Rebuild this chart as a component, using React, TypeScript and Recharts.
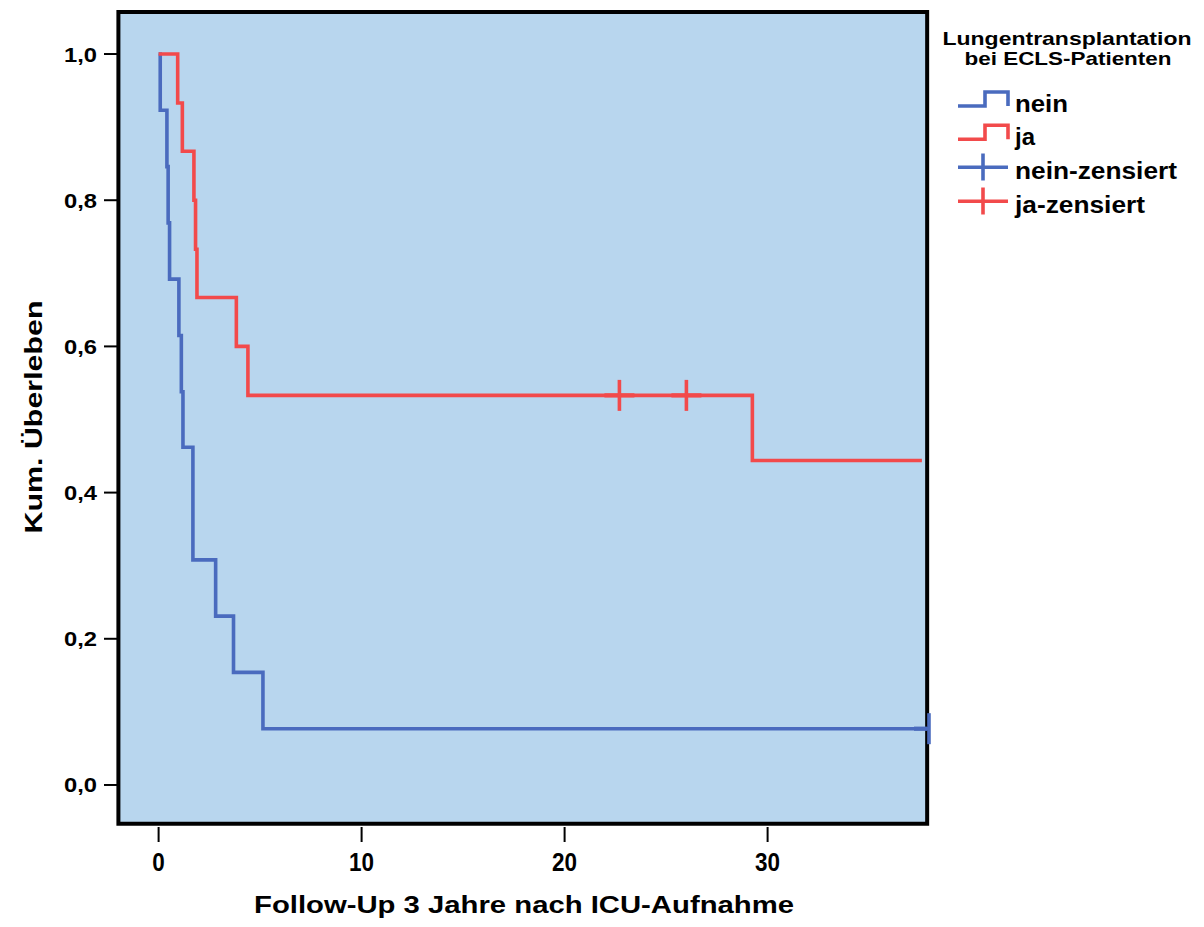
import React from 'react';
import {
  ComposedChart,
  Line,
  Scatter,
  XAxis,
  YAxis,
  ReferenceArea,
  Legend,
} from 'recharts';

// ---- data ----
const NEIN_T = [0, 0.08, 0.41, 0.47, 0.54, 1.0, 1.12, 1.2, 1.69, 2.81, 3.69, 5.14, 38];
const NEIN_S = [1, 0.923, 0.846, 0.769, 0.692, 0.615, 0.538, 0.462, 0.308, 0.231, 0.154, 0.077, 0.077];
const JA_T = [0, 0.94, 1.17, 1.74, 1.82, 1.89, 3.83, 4.4, 29.25, 37.6];
const JA_S = [1, 0.933, 0.867, 0.8, 0.733, 0.667, 0.6, 0.533, 0.444, 0.444];
const NEIN_CENS_T = [37.95];
const NEIN_CENS_S = [0.077];
const JA_CENS_T = [22.7, 26.0];
const JA_CENS_S = [0.533, 0.533];

const X_TICKS = [0, 10, 20, 30];
const Y_TICKS = [0, 0.2, 0.4, 0.6, 0.8, 1.0];
const X_TITLE = 'Follow-Up 3 Jahre nach ICU-Aufnahme';
const Y_TITLE = 'Kum. Überleben';
const LEGEND_TITLE = ['Lungentransplantation', 'bei ECLS-Patienten'];
const LEGEND_LABELS = ['nein', 'ja', 'nein-zensiert', 'ja-zensiert'];

// ---- styles ----
const BLUE = '#4A6BBE';
const RED = '#F24A4B';
const BG = '#B8D6EE';
const FONT = "'Liberation Sans', Arial, sans-serif";
const PLOT_RIGHT = 927;
const LW = 3.6;

const zip = (ts: number[], ss: number[]) => ts.map((t, i) => ({ t, s: ss[i] }));
const neinData = zip(NEIN_T, NEIN_S);
const jaData = zip(JA_T, JA_S);
const neinCens = zip(NEIN_CENS_T, NEIN_CENS_S);
const jaCens = zip(JA_CENS_T, JA_CENS_S);

const makePlus = (color: string) => (props: any) => {
  const { cx, cy } = props;
  if (cx == null || cy == null) return <g />;
  return (
    <g>
      <line x1={cx - 15} x2={Math.min(cx + 15, PLOT_RIGHT)} y1={cy} y2={cy} stroke={color} strokeWidth={LW + 0.6} />
      <line x1={cx} x2={cx} y1={cy - 15.5} y2={cy + 15.5} stroke={color} strokeWidth={LW} />
    </g>
  );
};

const YTick = (props: any) => {
  const { x, y, payload } = props;
  const label = Number(payload.value).toFixed(1).replace('.', ',');
  return (
    <text
      x={x}
      y={y}
      dy={7.5}
      textAnchor="end"
      fontFamily={FONT}
      fontWeight="bold"
      fontSize={20.5}
      fill="#000"
      textLength={33}
      lengthAdjust="spacingAndGlyphs"
    >
      {label}
    </text>
  );
};

const XTick = (props: any) => {
  const { x, y, payload } = props;
  const label = String(payload.value);
  return (
    <text
      x={x}
      y={y}
      dy={27}
      textAnchor="middle"
      fontFamily={FONT}
      fontWeight="bold"
      fontSize={25}
      fill="#000"
      textLength={12.5 * label.length}
      lengthAdjust="spacingAndGlyphs"
    >
      {label}
    </text>
  );
};

const LegendContent = () => {
  const rowBase = [111.7, 145, 178.5, 212.5];
  const widths = [53, 20, 162, 130];
  const colors = [BLUE, RED, BLUE, RED];
  return (
    <svg width={1204} height={240} style={{ position: 'absolute', left: 0, top: 0, overflow: 'visible' }}>
      <text x={1067} y={45} textAnchor="middle" fontFamily={FONT} fontWeight="bold" fontSize={18.5}
        textLength={249} lengthAdjust="spacingAndGlyphs">{LEGEND_TITLE[0]}</text>
      <text x={1068} y={65} textAnchor="middle" fontFamily={FONT} fontWeight="bold" fontSize={18.5}
        textLength={207} lengthAdjust="spacingAndGlyphs">{LEGEND_TITLE[1]}</text>
      {LEGEND_LABELS.map((lab, i) => {
        const b = rowBase[i];
        const c = colors[i];
        const sym = i < 2 ? (
          <polyline
            points={`958,${b - 5.7} 985,${b - 5.7} 985,${b - 19.7} 1008,${b - 19.7} 1008,${b - 5.7}`}
            fill="none" stroke={c} strokeWidth={LW}
          />
        ) : (
          <g>
            <line x1={958} x2={1008} y1={b - 11.3} y2={b - 11.3} stroke={c} strokeWidth={LW} />
            <line x1={983} x2={983} y1={b - 25} y2={b + 2} stroke={c} strokeWidth={LW} />
          </g>
        );
        return (
          <g key={lab}>
            {sym}
            <text x={1015} y={b} fontFamily={FONT} fontWeight="bold" fontSize={23} fill="#000"
              textLength={widths[i]} lengthAdjust="spacingAndGlyphs">{lab}</text>
          </g>
        );
      })}
    </svg>
  );
};

export default function App() {
  return (
    <div style={{ position: 'absolute', left: 0, top: 0, width: 1204, height: 927, background: '#fff' }}>
      <ComposedChart
        width={1204}
        height={927}
        margin={{ top: 12, right: 274, bottom: 0, left: 0 }}
      >
        <XAxis
          type="number"
          dataKey="t"
          domain={[-2, 38]}
          ticks={X_TICKS}
          height={100}
          axisLine={false}
          tickSize={15}
          tickMargin={2}
          tickLine={{ stroke: '#000', strokeWidth: 2 }}
          tick={<XTick />}
          interval={0}
          label={(p: any) => (
            <text x={524} y={913} textAnchor="middle" fontFamily={FONT} fontWeight="bold" fontSize={24}
              fill="#000" textLength={540} lengthAdjust="spacingAndGlyphs">{X_TITLE}</text>
          )}
        />
        <YAxis
          type="number"
          dataKey="s"
          domain={[-0.0575, 1.0575]}
          ticks={Y_TICKS}
          width={118}
          axisLine={false}
          tickSize={14}
          tickMargin={7}
          tickLine={{ stroke: '#000', strokeWidth: 2 }}
          tick={<YTick />}
          interval={0}
          label={(p: any) => (
            <text x={42} y={417} transform="rotate(-90 42 417)" textAnchor="middle" fontFamily={FONT}
              fontWeight="bold" fontSize={24} fill="#000" textLength={233}
              lengthAdjust="spacingAndGlyphs">{Y_TITLE}</text>
          )}
        />
        <ReferenceArea x1={-1.98} x2={37.86} y1={-0.053} y2={1.0575} fill={BG} fillOpacity={1} stroke="none" ifOverflow="visible" />
        <Line data={neinData} dataKey="s" type="stepAfter" stroke={BLUE} strokeWidth={LW} dot={false}
          isAnimationActive={false} legendType="none" />
        <Line data={jaData} dataKey="s" type="stepAfter" stroke={RED} strokeWidth={LW} dot={false}
          isAnimationActive={false} legendType="none" />
        <Scatter data={neinCens} dataKey="s" shape={makePlus(BLUE)} isAnimationActive={false} legendType="none" />
        <Scatter data={jaCens} dataKey="s" shape={makePlus(RED)} isAnimationActive={false} legendType="none" />
        <ReferenceArea x1={-1.98} x2={37.86} y1={-0.053} y2={1.0575} fill="none" stroke="#000" strokeWidth={4} ifOverflow="visible" />
        <Legend
          layout="vertical"
          align="center"
          verticalAlign="middle"
          content={<LegendContent />}
          wrapperStyle={{ position: 'absolute', left: 0, top: 0, width: 1204, height: 240, pointerEvents: 'none' }}
        />
      </ComposedChart>
    </div>
  );
}
